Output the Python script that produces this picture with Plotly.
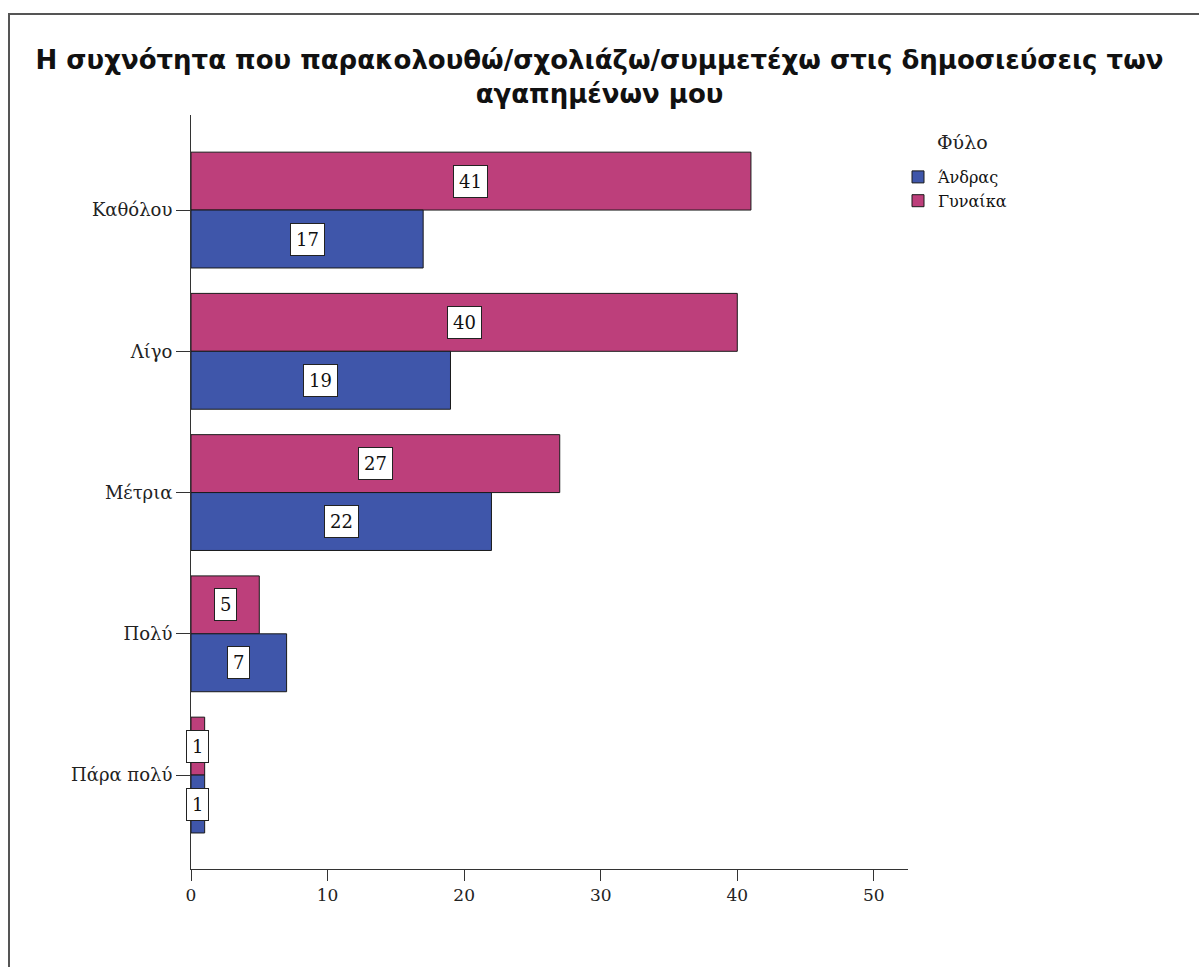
import plotly.graph_objects as go

# Survey responses by gender
categories = ["Καθόλου", "Λίγο", "Μέτρια", "Πολύ", "Πάρα πολύ"]
women = [41, 40, 27, 5, 1]
men = [17, 19, 22, 7, 1]
x_ticks = [0, 10, 20, 30, 40, 50]

title_text = ("Η συχνότητα που παρακολουθώ/σχολιάζω/συμμετέχω στις δημοσιεύσεις των<br>"
              "αγαπημένων μου")
legend_title = "Φύλο"

PINK = "#BD3F7B"
BLUE = "#3F56AA"
SERIF = "DejaVu Serif"
BARGAP = 0.18

fig = go.Figure()
# Women first so that its bar sits above the men's bar on the reversed axis
fig.add_trace(go.Bar(
    y=categories, x=women, orientation="h", name="Γυναίκα",
    marker=dict(color=PINK, line=dict(color="#1a1a1a", width=1)),
    legendrank=2, hoverinfo="x+name",
))
fig.add_trace(go.Bar(
    y=categories, x=men, orientation="h", name="Άνδρας",
    marker=dict(color=BLUE, line=dict(color="#1a1a1a", width=1)),
    legendrank=1, hoverinfo="x+name",
))

L, R, T, B = 191, 291, 115, 98
W, H = 1199, 967
pw, ph = W - L - R, H - T - B

def px_to_paper_x(px):
    return (px - L) / pw

def px_to_paper_y(py):
    return (H - B - py) / ph

# Value boxes centred on each bar
half = (1 - BARGAP) / 4
annotations = []
for i, (w, m) in enumerate(zip(women, men)):
    for val, off in ((w, -half), (m, half)):
        annotations.append(dict(
            x=val / 2, y=i + off, xref="x", yref="y",
            text=str(val), showarrow=False,
            font=dict(family=SERIF, size=18, color="#111"),
            bgcolor="white", bordercolor="#222", borderwidth=1, borderpad=5,
        ))

# Legend heading
annotations.append(dict(
    x=px_to_paper_x(962), y=px_to_paper_y(142), xref="paper", yref="paper",
    text=legend_title, showarrow=False, xanchor="center", yanchor="middle",
    font=dict(family=SERIF, size=19, color="#222"),
))

fig.update_layout(
    width=W, height=H,
    margin=dict(l=L, r=R, t=T, b=B),
    paper_bgcolor="white", plot_bgcolor="white",
    barmode="group", bargap=BARGAP, bargroupgap=0,
    title=dict(
        text=title_text, x=0.5, xref="container", xanchor="center",
        y=1 - 69 / H, yanchor="top",
        font=dict(family="DejaVu Sans", size=26, color="#111", weight="bold"),
    ),
    xaxis=dict(
        range=[0, 52.5], tickvals=x_ticks, showgrid=False, zeroline=False,
        showline=True, linecolor="#333", linewidth=1,
        ticks="outside", ticklen=11, tickcolor="#333",
        tickfont=dict(family=SERIF, size=17, color="#222"),
    ),
    yaxis=dict(
        type="category", categoryorder="array", categoryarray=categories,
        range=[4.665, -0.673], showgrid=False, zeroline=False,
        showline=True, linecolor="#333", linewidth=1,
        ticks="outside", ticklen=14, tickcolor="#333",
        tickfont=dict(family=SERIF, size=18, color="#222"),
    ),
    legend=dict(
        x=px_to_paper_x(898), y=px_to_paper_y(160), xanchor="left", yanchor="top",
        font=dict(family=SERIF, size=16, color="#111"),
        bgcolor="rgba(0,0,0,0)", tracegroupgap=0, itemwidth=30,
    ),
    annotations=annotations,
    shapes=[dict(
        type="rect", xref="paper", yref="paper", layer="below",
        x0=px_to_paper_x(9), x1=px_to_paper_x(1215),
        y0=px_to_paper_y(985), y1=px_to_paper_y(14),
        line=dict(color="#555", width=2), fillcolor="rgba(0,0,0,0)",
    )],
    showlegend=True,
)

fig.write_html("out.html")
